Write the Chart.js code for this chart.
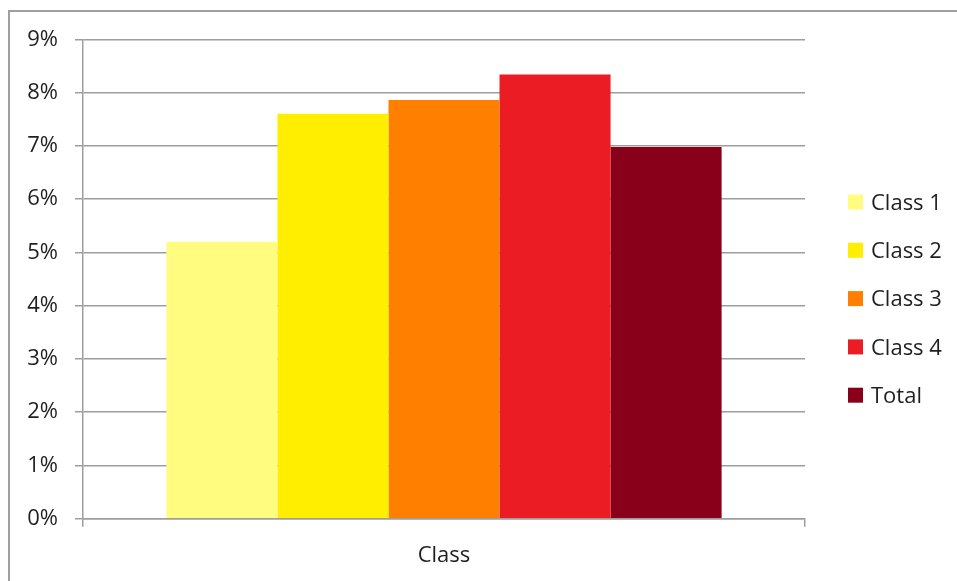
<!DOCTYPE html>
<html>
<head>
<meta charset="utf-8">
<script src="https://cdn.jsdelivr.net/npm/chart.js@4/dist/chart.umd.min.js"></script>
<style>
  html, body { margin: 0; padding: 0; background: #ffffff; }
  #wrap { position: relative; width: 957px; height: 581px; }
  canvas { display: block; }
</style>
</head>
<body>
<div id="wrap"><canvas id="chart" width="957" height="581"></canvas></div>
<script>
// Share of each class, in percent
const categories = ['Class'];
const seriesNames = ['Class 1', 'Class 2', 'Class 3', 'Class 4', 'Total'];
const class1 = [5.2];
const class2 = [7.6];
const class3 = [7.86];
const class4 = [8.34];
const total = [6.98];
const seriesValues = [class1, class2, class3, class4, total];
const seriesColors = ['#FFFC80', '#FFEE00', '#FF8000', '#EC1C24', '#880019'];
const yTicks = [0, 1, 2, 3, 4, 5, 6, 7, 8, 9];

const FONT = '"Open Sans", "DejaVu Sans", sans-serif';
const TEXT = '#1f1f1f';
const GRID = '#9e9e9e';

// Outer frame around the chart
const framePlugin = {
  id: 'frame',
  beforeDraw(chart) {
    const ctx = chart.ctx;
    ctx.save();
    ctx.strokeStyle = '#a0a0a0';
    ctx.lineWidth = 2;
    ctx.beginPath();
    ctx.moveTo(9, chart.height);
    ctx.lineTo(9, 11);
    ctx.lineTo(chart.width, 11);
    ctx.stroke();
    ctx.restore();
  }
};

// Legend on the right, built from the datasets
const sideLegend = {
  id: 'sideLegend',
  afterDraw(chart) {
    const ctx = chart.ctx;
    const area = chart.chartArea;
    const x0 = area.right + 43;
    const y0 = 202;
    const step = 48.3;
    ctx.save();
    ctx.font = '22px ' + FONT;
    ctx.textBaseline = 'middle';
    ctx.textAlign = 'left';
    chart.data.datasets.forEach((ds, i) => {
      const y = y0 + i * step;
      ctx.fillStyle = ds.backgroundColor;
      ctx.fillRect(x0, y - 7.5, 15, 15);
      ctx.fillStyle = TEXT;
      ctx.fillText(ds.label, x0 + 23, y + 1.5);
    });
    ctx.restore();
  }
};

const datasets = seriesNames.map((name, i) => ({
  label: name,
  data: seriesValues[i],
  backgroundColor: seriesColors[i],
  borderWidth: 0,
  categoryPercentage: 0.769,
  barPercentage: 1.0
}));

new Chart(document.getElementById('chart'), {
  type: 'bar',
  data: { labels: categories, datasets },
  options: {
    responsive: false,
    animation: false,
    devicePixelRatio: 1,
    layout: { padding: { left: 0, top: 39.3, right: 152, bottom: 0 } },
    plugins: {
      legend: { display: false },
      tooltip: { enabled: false }
    },
    scales: {
      x: {
        offset: true,
        grid: {
          offset: true,
          drawOnChartArea: false,
          drawTicks: true,
          tickLength: 8,
          color: GRID,
          lineWidth: 1.5
        },
        border: { display: true, color: GRID, width: 1.5 },
        ticks: {
          color: TEXT,
          font: { family: FONT, size: 22 },
          padding: 16
        },
        afterFit(scale) { scale.height = 62.3; }
      },
      y: {
        min: 0,
        max: 9,
        afterBuildTicks(scale) { scale.ticks = yTicks.map(v => ({ value: v })); },
        grid: {
          color: GRID,
          lineWidth: 1.5,
          tickLength: 8,
          drawTicks: true
        },
        border: { display: true, color: GRID, width: 1.5 },
        ticks: {
          color: TEXT,
          font: { family: FONT, size: 22 },
          padding: 17,
          callback: v => v + '%'
        },
        afterFit(scale) { scale.width = 83; }
      }
    }
  },
  plugins: [framePlugin, sideLegend]
});
</script>
</body>
</html>
